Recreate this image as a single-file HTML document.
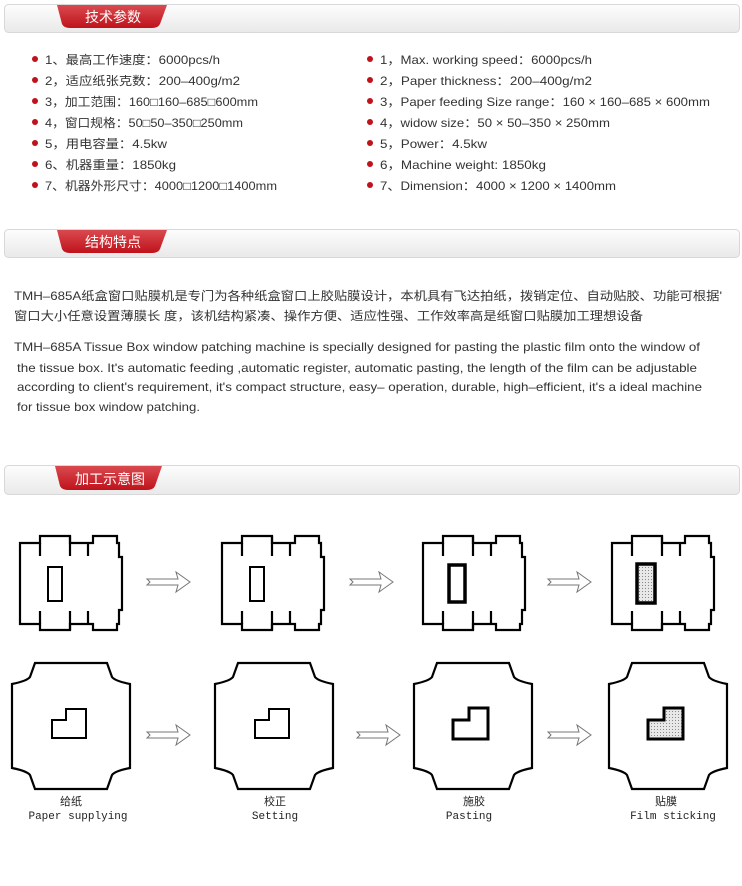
<!DOCTYPE html>
<html><head><meta charset="utf-8"><style>
body{margin:0;background:#fff;width:742px;height:886px;overflow:hidden}
svg{display:block}
.t{font-family:"Liberation Sans","Noto Sans CJK SC",sans-serif;font-size:12px;fill:#333}
.h{font-family:"Liberation Sans","Noto Sans CJK SC",sans-serif;font-size:14px;fill:#fff}
.m{font-family:"Liberation Mono","Noto Sans CJK SC",monospace;font-size:11px;fill:#222}
</style></head><body>
<svg width="742" height="886" viewBox="0 0 742 886">
<defs>
<linearGradient id="g" x1="0" y1="0" x2="0" y2="1"><stop offset="0" stop-color="#fdfdfd"/><stop offset="1" stop-color="#e9e9e9"/></linearGradient>
<linearGradient id="r" x1="0" y1="0" x2="0" y2="1"><stop offset="0" stop-color="#d94a4f"/><stop offset="1" stop-color="#c0121b"/></linearGradient>
<pattern id="d" width="3" height="3" patternUnits="userSpaceOnUse"><rect width="3" height="3" fill="#e8e8e8"/><rect width="1" height="1" fill="#888"/></pattern>
<g id="box1" fill="none" stroke="#000" stroke-width="2.2">
<path d="M0,7 H20 V0 H50 V7 H73 V0 H97 V7 H99 V21 H102 V74 H99 V88 H97 V94 H73 V88 H50 V94 H20 V88 H0 Z"/>
<path d="M20,7 V20 M50,0 V20 M68,7 V20 M20,88 V75 M50,94 V75 M68,88 V75"/>
</g>
<path id="box2" fill="none" stroke="#000" stroke-width="2.2" d="M23,0 H95 L100,14 Q103,18 118,21 V105 Q103,108 100,112 L95,126 H23 L18,112 Q15,108 0,105 V21 Q15,18 18,14 Z"/>
<path id="arr" fill="#fff" stroke="#777" stroke-width="1" d="M0,-3 L31,-3 L29,-10 L43,0 L29,10 L31,3 L0,3 L3,0 Z"/>
</defs>
<!-- headers -->
<g>
<rect x="4.5" y="4.5" width="735" height="28" rx="4" fill="url(#g)" stroke="#d8d8d8"/>
<path d="M57,5 H167 L160,24 Q158,28 152,28 H70 Q64,28 62,24 Z" fill="url(#r)"/>
<text class="h" x="113" y="22" text-anchor="middle">技术参数</text>
</g>
<g transform="translate(0,225)">
<rect x="4.5" y="4.5" width="735" height="28" rx="4" fill="url(#g)" stroke="#d8d8d8"/>
<path d="M57,5 H167 L160,24 Q158,28 152,28 H70 Q64,28 62,24 Z" fill="url(#r)"/>
<text class="h" x="113" y="22" text-anchor="middle">结构特点</text>
</g>
<g transform="translate(0,461)">
<rect x="4.5" y="4.5" width="735" height="29" rx="4" fill="url(#g)" stroke="#d8d8d8"/>
<path d="M55,5 H162 L155,25 Q153,29 147,29 H68 Q62,29 60,25 Z" fill="url(#r)"/>
<text class="h" x="110" y="23" text-anchor="middle">加工示意图</text>
</g>
<!-- params -->
<g fill="#c0121b">
<circle cx="35" cy="59" r="3"/><circle cx="35" cy="80" r="3"/><circle cx="35" cy="101" r="3"/><circle cx="35" cy="122" r="3"/><circle cx="35" cy="143" r="3"/><circle cx="35" cy="164" r="3"/><circle cx="35" cy="185" r="3"/>
<circle cx="370" cy="59" r="3"/><circle cx="370" cy="80" r="3"/><circle cx="370" cy="101" r="3"/><circle cx="370" cy="122" r="3"/><circle cx="370" cy="143" r="3"/><circle cx="370" cy="164" r="3"/><circle cx="370" cy="185" r="3"/>
</g>
<g class="t">
<text x="45" y="64" textLength="175" lengthAdjust="spacingAndGlyphs">1、最高工作速度：6000pcs/h</text>
<text x="45" y="85" textLength="195" lengthAdjust="spacingAndGlyphs">2，适应纸张克数：200–400g/m2</text>
<text x="45" y="106" textLength="213" lengthAdjust="spacingAndGlyphs">3，加工范围：160□160–685□600mm</text>
<text x="45" y="127" textLength="198" lengthAdjust="spacingAndGlyphs">4，窗口规格：50□50–350□250mm</text>
<text x="45" y="148" textLength="122" lengthAdjust="spacingAndGlyphs">5，用电容量：4.5kw</text>
<text x="45" y="169" textLength="131" lengthAdjust="spacingAndGlyphs">6、机器重量：1850kg</text>
<text x="45" y="190" textLength="232" lengthAdjust="spacingAndGlyphs">7、机器外形尺寸：4000□1200□1400mm</text>
<text x="380" y="64" textLength="212" lengthAdjust="spacingAndGlyphs">1，Max. working speed：6000pcs/h</text>
<text x="380" y="85" textLength="212" lengthAdjust="spacingAndGlyphs">2，Paper thickness：200–400g/m2</text>
<text x="380" y="106" textLength="330" lengthAdjust="spacingAndGlyphs">3，Paper feeding Size range：160 × 160–685 × 600mm</text>
<text x="380" y="127" textLength="230" lengthAdjust="spacingAndGlyphs">4，widow size：50 × 50–350 × 250mm</text>
<text x="380" y="148" textLength="107" lengthAdjust="spacingAndGlyphs">5，Power：4.5kw</text>
<text x="380" y="169" textLength="166" lengthAdjust="spacingAndGlyphs">6，Machine weight: 1850kg</text>
<text x="380" y="190" textLength="236" lengthAdjust="spacingAndGlyphs">7、Dimension：4000 × 1200 × 1400mm</text>
<!-- paragraph -->
<text x="14" y="300" textLength="708" lengthAdjust="spacingAndGlyphs">TMH–685A纸盒窗口贴膜机是专门为各种纸盒窗口上胶贴膜设计，本机具有飞达拍纸，拨销定位、自动贴胶、功能可根据'</text>
<text x="14" y="320" textLength="629" lengthAdjust="spacingAndGlyphs">窗口大小任意设置薄膜长 度，该机结构紧凑、操作方便、适应性强、工作效率高是纸窗口贴膜加工理想设备</text>
<text x="14" y="351" textLength="686" lengthAdjust="spacingAndGlyphs">TMH–685A Tissue Box window patching machine is specially designed for pasting the plastic film onto the window of</text>
<text x="17" y="372" textLength="680" lengthAdjust="spacingAndGlyphs">the tissue box. It's automatic  feeding ,automatic register, automatic pasting, the length of the film can be adjustable</text>
<text x="17" y="391" textLength="685" lengthAdjust="spacingAndGlyphs">according to client's requirement, it's compact structure, easy–  operation, durable, high–efficient, it's a ideal machine</text>
<text x="17" y="411" textLength="183" lengthAdjust="spacingAndGlyphs">for tissue box window patching.</text>
</g>
<!-- row1 boxes -->
<use href="#box1" x="20" y="536"/>
<use href="#box1" x="222" y="536"/>
<use href="#box1" x="423" y="536"/>
<use href="#box1" x="612" y="536"/>
<g fill="none" stroke="#000">
<rect x="48" y="567" width="14" height="34" stroke-width="2"/>
<rect x="250" y="567" width="14" height="34" stroke-width="2"/>
<rect x="449" y="565" width="16" height="37" stroke-width="3.5"/>
<rect x="637" y="564" width="18" height="39" stroke-width="3.5" fill="url(#d)"/>
</g>
<use href="#arr" x="147" y="582"/>
<use href="#arr" x="350" y="582"/>
<use href="#arr" x="548" y="582"/>
<!-- row2 boxes -->
<use href="#box2" x="12" y="663"/>
<use href="#box2" x="215" y="663"/>
<use href="#box2" x="414" y="663"/>
<use href="#box2" x="609" y="663"/>
<g fill="none" stroke="#000">
<path d="M66,709 H86 V738 H52 V720 H66 Z" stroke-width="2"/>
<path d="M269,709 H289 V738 H255 V720 H269 Z" stroke-width="2"/>
<path d="M469,708 H488 V739 H453 V720 H469 Z" stroke-width="3"/>
<path d="M664,708 H683 V739 H648 V720 H664 Z" stroke-width="3" fill="url(#d)"/>
</g>
<use href="#arr" x="147" y="735"/>
<use href="#arr" x="357" y="735"/>
<use href="#arr" x="548" y="735"/>
<g class="m" text-anchor="middle">
<text x="71" y="805">给纸</text><text x="78" y="819">Paper supplying</text>
<text x="275" y="805">校正</text><text x="275" y="819">Setting</text>
<text x="474" y="805">施胶</text><text x="469" y="819">Pasting</text>
<text x="666" y="805">贴膜</text><text x="673" y="819">Film sticking</text>
</g>
</svg>
</body></html>
